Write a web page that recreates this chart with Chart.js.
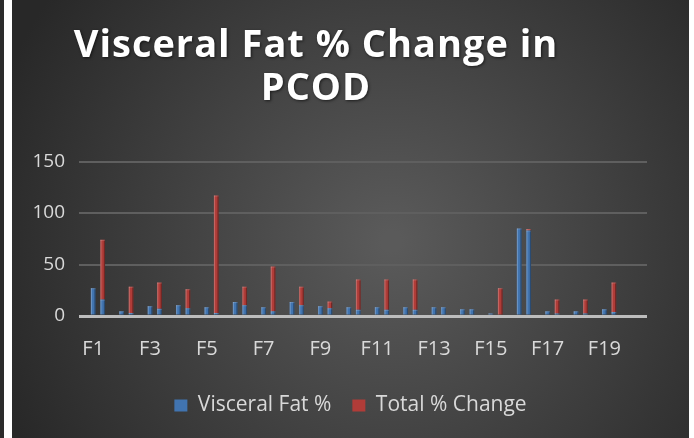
<!DOCTYPE html>
<html>
<head>
<meta charset="utf-8">
<script src="https://cdn.jsdelivr.net/npm/chart.js@4.4.1/dist/chart.umd.min.js"></script>
<style>
  html, body { margin: 0; padding: 0; background: #fff; }
  body { width: 694px; height: 438px; position: relative; overflow: hidden; }
  .edge { position: absolute; left: 0; top: 0; width: 4px; height: 438px; background: #2b2b2b; }
  .wrap { position: absolute; left: 12px; top: 0; width: 677px; height: 438px; }
</style>
</head>
<body>
<div class="edge"></div>
<div class="wrap"><canvas id="myChart" width="677" height="438"></canvas></div>
<script>
// data
const categories = ['F1','F2','F3','F4','F5','F6','F7','F8','F9','F10',
                    'F11','F12','F13','F14','F15','F16','F17','F18','F19','F20'];
const visceralBefore = [27, 4.5, 9.5, 10.5, 8.5, 13.5, 8.5, 13.5, 9.5, 8.5,
                        8.5, 8.5, 8.5, 6.5, 2.5, 85, 4.5, 4.5, 6.5, null];
const visceralAfter  = [16, 3, 7, 7.5, 3, 10.5, 4.5, 10.5, 7.5, 6,
                        6, 6, 8.5, 6.5, 0, 83, 2.5, 2.5, 4, null];
const totalChange    = [58, 25.5, 25.5, 18.5, 114, 18, 43.5, 18, 6.5, 29.5,
                        29.5, 29.5, 0, 0, 27, 1.5, 13.5, 13.5, 28.5, null];
const emptySeries    = categories.map(() => 0);
const yTicks = [0, 50, 100, 150];
const titleLines = ['Visceral Fat % Change in', 'PCOD'];

const FONT = '"Open Sans", "DejaVu Sans", sans-serif';
const BLUE = '#4174b0';
const RED = '#b03c38';

const backgroundPlugin = {
  id: 'bg',
  beforeDraw(chart) {
    let ctx = chart.ctx;
    let w = chart.width, h = chart.height;
    ctx.save();
    let g = ctx.createRadialGradient(w * 0.56, h * 0.55, 10, w * 0.56, h * 0.55, w * 0.62);
    g.addColorStop(0, '#5a5a5a');
    g.addColorStop(1, '#282828');
    ctx.fillStyle = g;
    ctx.fillRect(0, 0, w, h);
    ctx.restore();
  }
};

const titlePlugin = {
  id: 'bigTitle',
  afterDraw(chart) {
    let ctx = chart.ctx;
    ctx.save();
    ctx.font = 'bold 38px ' + FONT;
    ctx.fillStyle = '#ffffff';
    ctx.textAlign = 'center';
    ctx.textBaseline = 'alphabetic';
    ctx.letterSpacing = '1px';
    ctx.shadowColor = 'rgba(0,0,0,0.6)';
    ctx.shadowBlur = 3;
    ctx.shadowOffsetX = 1;
    ctx.shadowOffsetY = 1;
    ctx.fillText(titleLines[0], 304, 57);
    ctx.fillText(titleLines[1], 304, 100);
    ctx.restore();
  }
};

// light/dark edges on each bar for the bevelled look
const bevelPlugin = {
  id: 'bevel',
  afterDatasetsDraw(chart) {
    let ctx = chart.ctx;
    ctx.save();
    chart.data.datasets.forEach((ds, i) => {
      let meta = chart.getDatasetMeta(i);
      if (meta.hidden || i === 0) return;
      meta.data.forEach(bar => {
        let top = Math.min(bar.y, bar.base), bottom = Math.max(bar.y, bar.base);
        if (bottom - top < 0.5) return;
        let left = bar.x - bar.width / 2;
        ctx.fillStyle = 'rgba(255,255,255,0.22)';
        ctx.fillRect(left, top, 1.2, bottom - top);
        ctx.fillStyle = 'rgba(0,0,0,0.35)';
        ctx.fillRect(left + bar.width - 1.2, top, 1.2, bottom - top);
        ctx.fillStyle = 'rgba(255,255,255,0.18)';
        ctx.fillRect(left, top, bar.width, 1);
      });
    });
    ctx.restore();
  }
};

let ctx = document.getElementById('myChart').getContext('2d');
let chart = new Chart(ctx, {
  type: 'bar',
  data: {
    labels: categories,
    datasets: [
      { label: '', data: emptySeries, stack: 'pad', backgroundColor: 'rgba(0,0,0,0)' },
      { label: 'Visceral Fat %', data: visceralBefore, stack: 'before', backgroundColor: BLUE },
      { label: 'Visceral Fat % (after)', data: visceralAfter, stack: 'after', backgroundColor: BLUE },
      { label: 'Total % Change', data: totalChange, stack: 'after', backgroundColor: RED }
    ]
  },
  options: {
    responsive: false,
    animation: false,
    devicePixelRatio: 1,
    datasets: { bar: { categoryPercentage: 1.0, barPercentage: 0.5, borderWidth: 0 } },
    layout: { padding: { top: 161.5, right: 0, bottom: 12, left: 0 } },
    plugins: {
      title: { display: false },
      tooltip: { enabled: false },
      legend: {
        position: 'bottom',
        labels: {
          color: '#d9d9d9',
          font: { family: FONT, size: 21 },
          boxWidth: 13,
          boxHeight: 12,
          padding: 21,
          filter: item => item.datasetIndex === 1 || item.datasetIndex === 3
        }
      }
    },
    scales: {
      x: {
        stacked: true,
        grid: { display: false },
        border: { display: false },
        ticks: {
          color: '#d9d9d9',
          font: { family: FONT, size: 20 },
          autoSkip: false,
          maxRotation: 0,
          padding: 13,
          callback: (v, i) => i % 2 === 0 ? categories[i] : ''
        }
      },
      y: {
        stacked: true,
        min: 0,
        max: 150,
        afterBuildTicks: scale => { scale.ticks = yTicks.map(v => ({ value: v })); },
        afterFit: scale => { scale.width = 67; },
        border: { display: false },
        grid: {
          drawTicks: false,
          color: c => c.tick.value === 0 ? '#bdbdbd' : '#5f5f5f',
          lineWidth: c => c.tick.value === 0 ? 3 : 2
        },
        ticks: {
          color: '#d9d9d9',
          font: { family: FONT, size: 19 },
          padding: 14
        }
      },
      // empty right-hand axis that only reserves the blank strip right of the plot
      yRight: {
        position: 'right',
        display: true,
        grid: { display: false },
        border: { display: false },
        ticks: { display: false },
        afterFit: scale => { scale.width = 42; }
      }
    }
  },
  plugins: [backgroundPlugin, bevelPlugin, titlePlugin]
});
</script>
</body>
</html>
